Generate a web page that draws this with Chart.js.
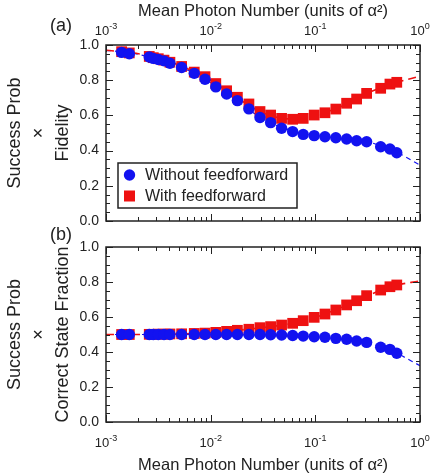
<!DOCTYPE html>
<html>
<head>
<meta charset="utf-8">
<script src="https://cdn.jsdelivr.net/npm/chart.js@4.4.1/dist/chart.umd.min.js"></script>
<style>
    body { margin: 0; background: #fff; }
    .wrap { position: relative; width: 436px; height: 474px; }
    .wrap canvas { position: absolute; left: 0; top: 0; }
</style>
</head>
<body>
<div class="wrap">
    <canvas id="fidelityChart" width="436" height="474"></canvas>
    <canvas id="fractionChart" width="436" height="474"></canvas>
</div>
<script>
// mean photon number of each measured point
const photonNumber = [0.00141, 0.00167, 0.00259, 0.00283, 0.00316, 0.00358, 0.00408, 0.00528, 0.00697, 0.00883,
    0.0112, 0.0142, 0.0180, 0.0232, 0.0296, 0.0374, 0.0476, 0.0607, 0.0766, 0.0975,
    0.1236, 0.157, 0.199, 0.248, 0.309, 0.421, 0.516, 0.600];

const fidelityWithout = [0.958, 0.950, 0.932, 0.924, 0.918, 0.910, 0.896, 0.872, 0.839, 0.805,
    0.762, 0.722, 0.684, 0.637, 0.588, 0.559, 0.527, 0.508, 0.492, 0.485,
    0.479, 0.473, 0.466, 0.456, 0.450, 0.422, 0.409, 0.388];
const fidelityWith = [0.962, 0.955, 0.935, 0.928, 0.922, 0.914, 0.902, 0.878, 0.846, 0.820,
    0.781, 0.740, 0.703, 0.665, 0.622, 0.602, 0.583, 0.578, 0.583, 0.602,
    0.615, 0.636, 0.669, 0.693, 0.725, 0.754, 0.778, 0.788];

const fractionWithout = [0.500, 0.500, 0.500, 0.500, 0.500, 0.500, 0.500, 0.500, 0.500, 0.500,
    0.500, 0.500, 0.500, 0.500, 0.500, 0.499, 0.497, 0.494, 0.491, 0.487,
    0.484, 0.478, 0.473, 0.463, 0.455, 0.427, 0.415, 0.393];
const fractionWith = [0.500, 0.500, 0.501, 0.501, 0.502, 0.502, 0.503, 0.504, 0.506, 0.508,
    0.512, 0.518, 0.524, 0.530, 0.539, 0.545, 0.554, 0.564, 0.579, 0.598,
    0.617, 0.640, 0.669, 0.693, 0.722, 0.754, 0.773, 0.783];

// dashed theory curves
const fitPhoton = [0.001, 0.00178, 0.00316, 0.00562, 0.01, 0.0178, 0.0316, 0.0562, 0.1, 0.178, 0.316, 0.562, 1.0];
const fidelityFitWithout = [0.970, 0.954, 0.917, 0.865, 0.785, 0.685, 0.578, 0.518, 0.486, 0.470, 0.450, 0.398, 0.318];
const fidelityFitWith = [0.970, 0.956, 0.925, 0.872, 0.800, 0.700, 0.615, 0.580, 0.600, 0.652, 0.727, 0.782, 0.823];
const fractionFitWithout = [0.500, 0.500, 0.500, 0.500, 0.499, 0.498, 0.496, 0.492, 0.485, 0.473, 0.452, 0.400, 0.322];
const fractionFitWith = [0.500, 0.500, 0.501, 0.504, 0.511, 0.524, 0.540, 0.560, 0.598, 0.655, 0.722, 0.778, 0.806];

const xTickValues = [0.001, 0.01, 0.1, 1];
const xTickExponents = ["-3", "-2", "-1", "0"];

const FONT = "'Liberation Sans', Arial, sans-serif";
const INK = "#222";
const BLUE = "#1212f0";
const RED = "#ee1111";

Chart.defaults.font.family = FONT;

function toPoints(xs, ys) {
    return xs.map((x, i) => ({ x, y: ys[i] }));
}

function drawPower(ctx, x, baseline, exp) {
    ctx.font = `13px ${FONT}`;
    const baseWidth = ctx.measureText("10").width;
    ctx.font = `9px ${FONT}`;
    const expWidth = ctx.measureText(exp).width;
    const start = x - (baseWidth + expWidth) / 2;
    ctx.textAlign = "left";
    ctx.textBaseline = "alphabetic";
    ctx.font = `13px ${FONT}`;
    ctx.fillText("10", start, baseline);
    ctx.font = `9px ${FONT}`;
    ctx.fillText(exp, start + baseWidth, baseline - 6);
}

// frame, inward ticks on all four sides, power-of-ten labels, panel tag and legend
const frameTicks = {
    id: "frameTicks",
    afterDraw(chart, args, opts) {
        const { ctx, chartArea: area, scales } = chart;
        const xs = scales.x;
        const ys = scales.y;
        ctx.save();
        ctx.strokeStyle = INK;
        ctx.lineWidth = 1;
        ctx.beginPath();
        for (let e = -3; e <= 0; e++) {
            for (let k = 1; k < 10; k++) {
                if (e === 0 && k > 1) {
                    break;
                }
                const px = Math.round(xs.getPixelForValue(k * Math.pow(10, e))) + 0.5;
                const len = k === 1 ? 7 : 4;
                ctx.moveTo(px, area.top);
                ctx.lineTo(px, area.top + len);
                ctx.moveTo(px, area.bottom);
                ctx.lineTo(px, area.bottom - len);
            }
        }
        for (let i = 0; i <= 20; i++) {
            const py = Math.round(ys.getPixelForValue(i * 0.05)) + 0.5;
            const len = i % 4 === 0 ? 7 : 4;
            ctx.moveTo(area.left, py);
            ctx.lineTo(area.left + len, py);
            ctx.moveTo(area.right, py);
            ctx.lineTo(area.right - len, py);
        }
        ctx.stroke();
        ctx.lineWidth = 1.5;
        ctx.strokeRect(area.left, area.top, area.right - area.left, area.bottom - area.top);

        ctx.fillStyle = INK;
        xTickValues.forEach((value, i) => {
            drawPower(ctx, xs.getPixelForValue(value), opts.tickBaseline, xTickExponents[i]);
        });

        ctx.font = `18px ${FONT}`;
        ctx.textAlign = "left";
        ctx.textBaseline = "alphabetic";
        ctx.fillText(opts.tag, 50, opts.tagBaseline);

        if (opts.legend) {
            const left = area.left + 12;
            const top = area.bottom - 58;
            ctx.fillStyle = "#fff";
            ctx.fillRect(left, top, 179, 45);
            ctx.lineWidth = 1.5;
            ctx.strokeRect(left, top, 179, 45);
            const entries = [chart.data.datasets[1], chart.data.datasets[0]];
            entries.forEach((ds, i) => {
                const cy = top + 12 + i * 21;
                ctx.fillStyle = ds.backgroundColor;
                if (ds.pointStyle === "rect") {
                    ctx.fillRect(left + 6, cy - 5.5, 11, 11);
                } else {
                    ctx.beginPath();
                    ctx.arc(left + 11.5, cy, 5.7, 0, Math.PI * 2);
                    ctx.fill();
                }
                ctx.fillStyle = INK;
                ctx.font = `16px ${FONT}`;
                ctx.textBaseline = "middle";
                ctx.fillText(ds.label, left + 27, cy + 1);
            });
        }
        ctx.restore();
    },
};

function makeChart(canvasId, panel) {
    return new Chart(document.getElementById(canvasId), {
        type: "scatter",
        data: {
            datasets: [
                {
                    label: "With feedforward",
                    data: toPoints(photonNumber, panel.withData),
                    pointStyle: "rect",
                    pointRadius: 7.6,
                    backgroundColor: RED,
                    borderWidth: 0,
                    order: 1,
                },
                {
                    label: "Without feedforward",
                    data: toPoints(photonNumber, panel.withoutData),
                    pointStyle: "circle",
                    pointRadius: 5.7,
                    backgroundColor: BLUE,
                    borderWidth: 0,
                    order: 0,
                },
                {
                    label: "Fit without feedforward",
                    data: toPoints(fitPhoton, panel.fitWithout),
                    showLine: true,
                    pointRadius: 0,
                    borderColor: BLUE,
                    borderWidth: 1.2,
                    borderDash: [5, 4],
                    cubicInterpolationMode: "monotone",
                    order: 3,
                },
                {
                    label: "Fit with feedforward",
                    data: toPoints(fitPhoton, panel.fitWith),
                    showLine: true,
                    pointRadius: 0,
                    borderColor: RED,
                    borderWidth: 1.6,
                    borderDash: [8, 5],
                    cubicInterpolationMode: "monotone",
                    order: 2,
                },
            ],
        },
        options: {
            responsive: false,
            animation: false,
            devicePixelRatio: 1,
            events: [],
            layout: { padding: panel.padding },
            plugins: {
                legend: { display: false },
                tooltip: { enabled: false },
                frameTicks: panel.frame,
            },
            scales: {
                x: {
                    type: "logarithmic",
                    position: panel.xPosition,
                    min: 0.001,
                    max: 1,
                    grid: { display: false, drawTicks: false },
                    border: { display: false },
                    ticks: { display: false },
                    title: {
                        display: true,
                        text: "Mean Photon Number (units of α²)",
                        color: INK,
                        font: { size: 16.5, lineHeight: 1 },
                        padding: panel.xTitlePadding,
                    },
                    afterFit: (scale) => { scale.height = panel.xAxisHeight; },
                },
                y: {
                    min: 0,
                    max: 1,
                    grid: { display: false, drawTicks: false },
                    border: { display: false },
                    ticks: {
                        stepSize: 0.2,
                        padding: 7,
                        color: INK,
                        font: { size: 14 },
                        callback: (value) => Number(value).toFixed(1),
                    },
                    title: {
                        display: true,
                        text: panel.yTitle,
                        color: INK,
                        font: { size: 18, lineHeight: 1.33 },
                        padding: { top: 3, bottom: 0 },
                    },
                    afterFit: (scale) => { scale.width = 106; },
                },
            },
        },
        plugins: [frameTicks],
    });
}

makeChart("fidelityChart", {
    withData: fidelityWith,
    withoutData: fidelityWithout,
    fitWith: fidelityFitWith,
    fitWithout: fidelityFitWithout,
    xPosition: "top",
    xAxisHeight: 45,
    xTitlePadding: { top: 3, bottom: 0 },
    yTitle: ["Success Prob", "×", "Fidelity"],
    padding: { left: 0, top: 0, right: 16, bottom: 253 },
    frame: { tickBaseline: 35, tag: "(a)", tagBaseline: 31, legend: true },
});

makeChart("fractionChart", {
    withData: fractionWith,
    withoutData: fractionWithout,
    fitWith: fractionFitWith,
    fitWithout: fractionFitWithout,
    xPosition: "bottom",
    xAxisHeight: 52,
    xTitlePadding: { top: 0, bottom: 0 },
    yTitle: ["Success Prob", "×", "Correct State Fraction"],
    padding: { left: 0, top: 247, right: 16, bottom: 0 },
    frame: { tickBaseline: 447, tag: "(b)", tagBaseline: 240, legend: false },
});
</script>
</body>
</html>
